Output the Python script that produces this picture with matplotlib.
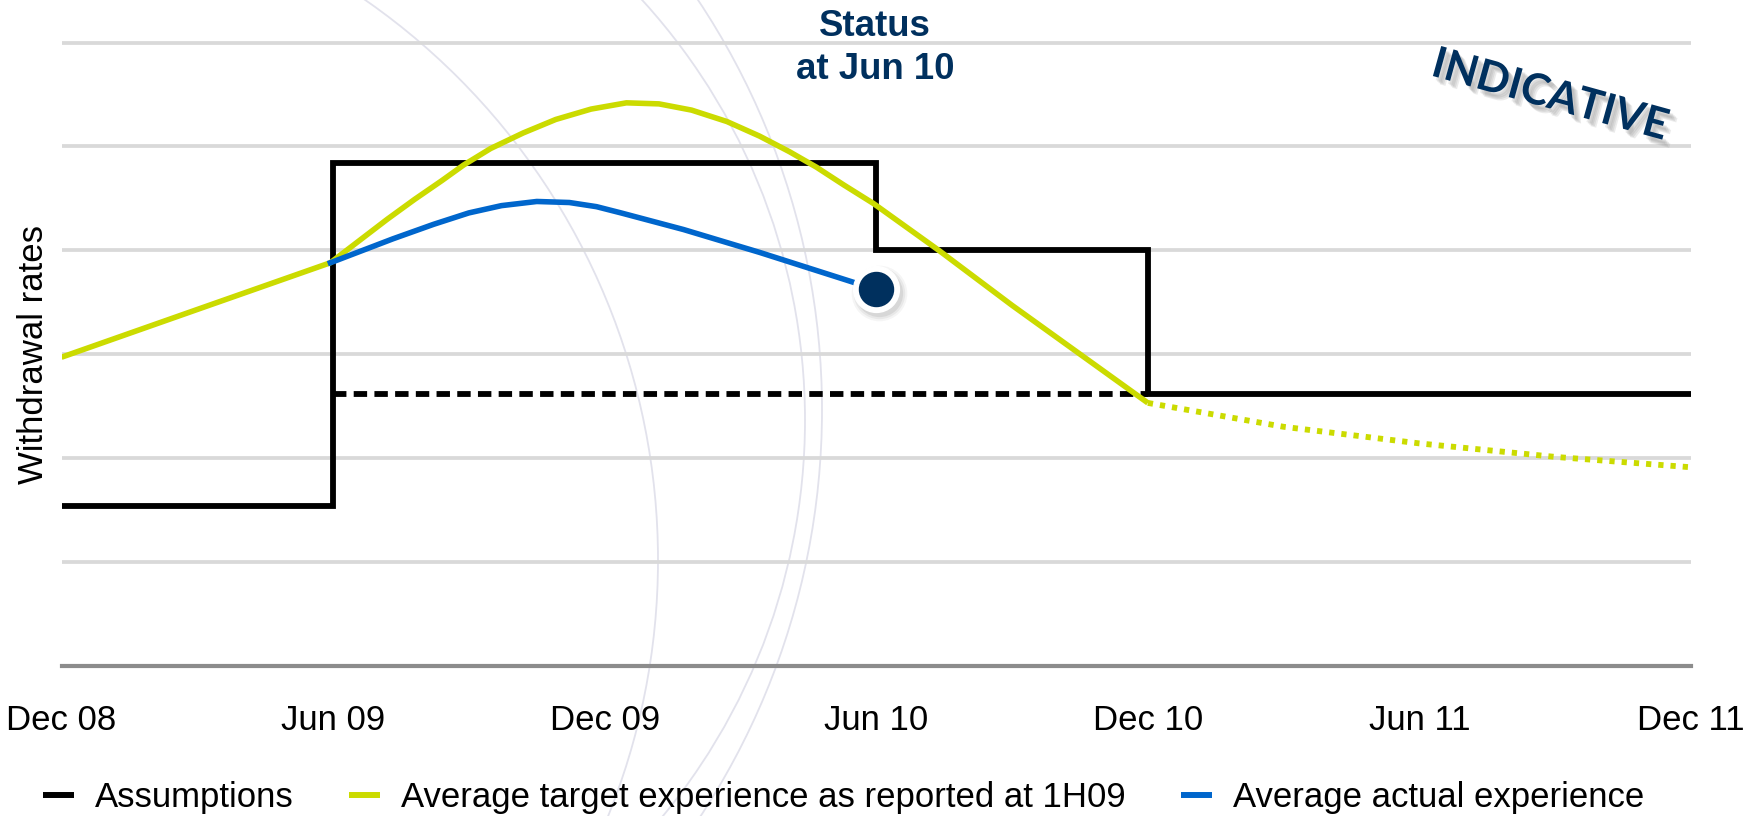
import matplotlib
matplotlib.use("Agg")
import matplotlib.pyplot as plt
import matplotlib.patheffects as pe
import matplotlib.transforms as mtransforms
from matplotlib.lines import Line2D
from matplotlib.patches import Circle

plt.rcParams['font.family'] = ['Liberation Sans', 'DejaVu Sans']

# half-year periods on the x axis
periods = ['Dec 08', 'Jun 09', 'Dec 09', 'Jun 10', 'Dec 10', 'Jun 11', 'Dec 11']

# assumptions (step line) and the lower assumption (dashed)
assump_x = [0, 1, 3, 4, 6]
assump_y = [1.54, 4.84, 4.00, 2.62, 2.62]
floor_x = [1, 4]
floor_y = [2.62, 2.62]

# average target experience as reported at 1H09
target_x = [0.0, 0.5, 0.99, 1.10, 1.20, 1.30, 1.40, 1.48, 1.58, 1.70, 1.82,
            1.95, 2.08, 2.20, 2.32, 2.45, 2.57, 2.68, 2.78, 2.88, 2.99, 3.23,
            3.50, 3.75, 4.0]
target_y = [2.97, 3.43, 3.88, 4.10, 4.30, 4.49, 4.67, 4.82, 4.98, 5.13, 5.26,
            5.36, 5.42, 5.41, 5.35, 5.24, 5.10, 4.95, 4.80, 4.63, 4.45, 4.00,
            3.47, 3.00, 2.53]
target_fc_x = [4.0, 4.5, 5.0, 5.5, 6.0]
target_fc_y = [2.53, 2.30, 2.14, 2.01, 1.91]

# average actual experience
actual_x = [0.99, 1.10, 1.22, 1.37, 1.50, 1.62, 1.75, 1.87, 1.97, 2.06, 2.29, 2.57, 2.93]
actual_y = [3.88, 3.99, 4.11, 4.25, 4.36, 4.43, 4.47, 4.46, 4.42, 4.36, 4.20, 3.98, 3.68]
status_x = 3.0
status_y = 3.63

BLACK = '#000000'
YELLOW = '#cbdb00'
BLUE = '#0066cc'
NAVY = '#00305e'
GRID = '#d9d9d9'

W, H = 1754, 816
fig = plt.figure(figsize=(W / 100, H / 100), dpi=100)

# decorative background arcs (pixel coordinates)
bg = fig.add_axes([0, 0, 1, 1], zorder=0)
bg.set_xlim(0, W)
bg.set_ylim(H, 0)
bg.axis('off')
for cx, cy, r in [(-24, 560, 682), (182, 420, 623), (82, 410, 740)]:
    bg.add_patch(Circle((cx, cy), r, fill=False, ec='#e2e2ec', lw=1.3))

unit_y = 103.83
ymax = 6.35
ax = fig.add_axes([61.5 / W, 150.4 / H, (1691 - 61.5) / W, ymax * unit_y / H], zorder=1)
ax.patch.set_alpha(0)
ax.set_xlim(0, 6)
ax.set_ylim(0, ymax)

for g in range(1, 7):
    ax.axhline(g, color=GRID, lw=2.7, zorder=1)
ax.axhline(0, color='#8c8c8c', lw=3, zorder=1, clip_on=False)

ax.step(assump_x, assump_y, where='post', color=BLACK, lw=4.2, zorder=3,
        solid_joinstyle='miter')
ax.plot(floor_x, floor_y, color=BLACK, lw=4.2, dashes=(2.3, 1.25), zorder=3)

ax.plot(target_x, target_y, color=YELLOW, lw=4, zorder=4, solid_capstyle='butt',
        solid_joinstyle='round')
ax.plot(target_fc_x, target_fc_y, color=YELLOW, lw=4.2, dashes=(0.9, 1.2), zorder=4)

ax.plot(actual_x, actual_y, color=BLUE, lw=4, zorder=5, solid_joinstyle='round')

# status marker with a soft shadow
shadow_tr = mtransforms.offset_copy(ax.transData, fig=fig, x=2, y=-3, units='points')
for ms, a in [(40, 0.05), (37, 0.07), (34, 0.1)]:
    ax.plot([status_x], [status_y], 'o', ms=ms, mfc='#444444', mec='none', alpha=a,
            transform=shadow_tr, zorder=6)
ax.plot([status_x], [status_y], 'o', ms=33, mfc='white', mec='white', zorder=6)
ax.plot([status_x], [status_y], 'o', ms=24.5, mfc=NAVY, mec=NAVY, zorder=7)

ax.set_xticks(range(len(periods)))
ax.set_xticklabels(periods, fontsize=25)
ax.tick_params(axis='x', length=0, pad=28)
ax.set_yticks([])
for s in ax.spines.values():
    s.set_visible(False)

fig.text(34 / W, 1 - 355 / H, 'Withdrawal rates', rotation=90, fontsize=25,
         ha='center', va='center')

fig.text(875 / W, 1 - 48 / H, 'Status\nat Jun 10', fontsize=26.4, fontweight='bold',
         color=NAVY, ha='center', va='center', linespacing=1.33)

soft = [pe.SimplePatchShadow(offset=(o, -o - 1), shadow_rgbFace='#888888', alpha=0.16)
        for o in (2, 3, 4, 5)]
fig.text(1550 / W, 1 - 95 / H, 'INDICATIVE', fontsize=31, fontweight='bold',
         family=['Lato', 'DejaVu Sans'], color=NAVY, rotation=-15.5,
         ha='center', va='center', rotation_mode='anchor',
         path_effects=soft + [pe.Normal()])

handles = [Line2D([], [], color=BLACK, lw=4.3, solid_capstyle='butt'),
           Line2D([], [], color=YELLOW, lw=4.3, solid_capstyle='butt'),
           Line2D([], [], color=BLUE, lw=4.3, solid_capstyle='butt')]
labels = ['Assumptions', 'Average target experience as reported at 1H09',
          'Average actual experience']
fig.legend(handles, labels, loc='center left', bbox_to_anchor=(42.5 / W, 1 - 798 / H),
           ncol=3, frameon=False, fontsize=25, handlelength=0.9, handletextpad=0.6,
           columnspacing=1.6, borderpad=0, borderaxespad=0)

fig.savefig('out.png', dpi=100)
